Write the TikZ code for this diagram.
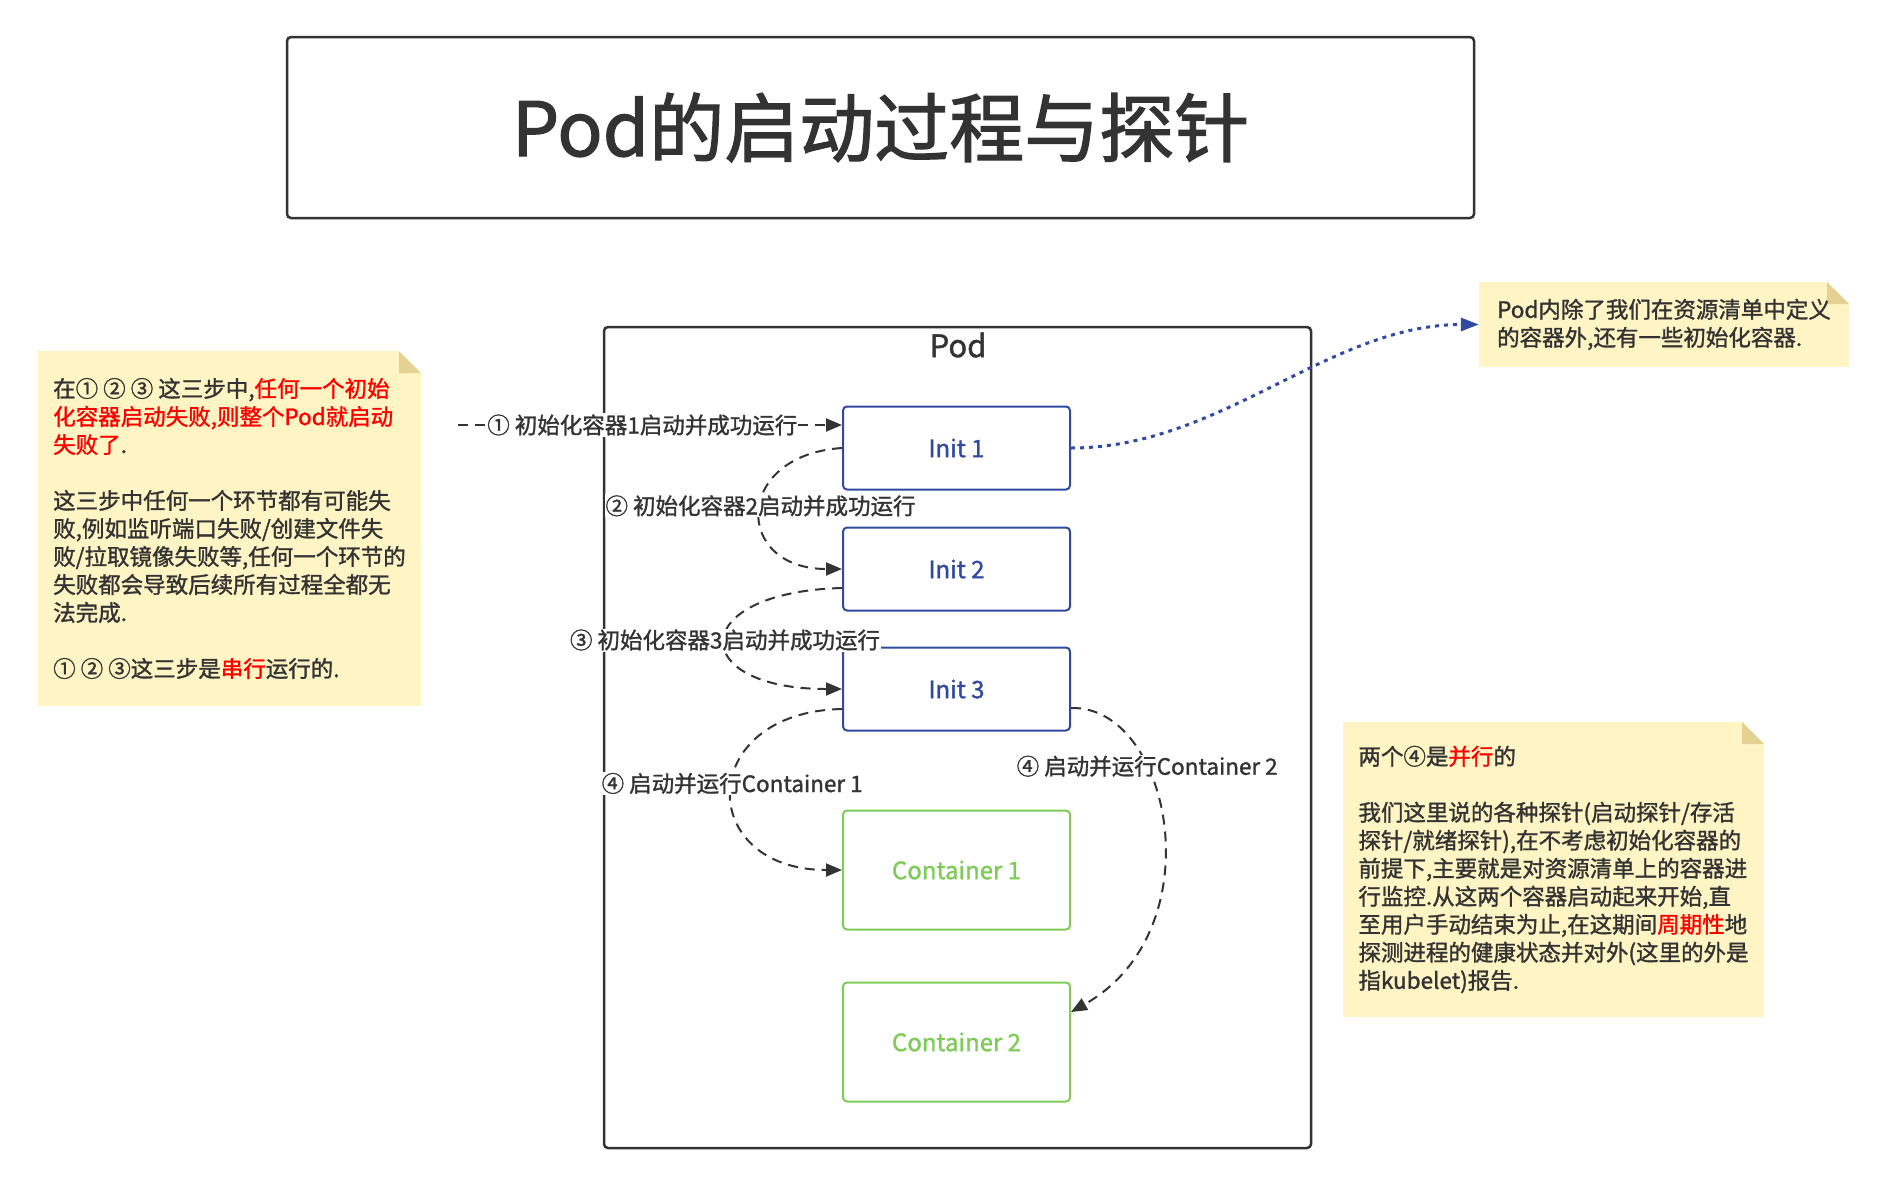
\documentclass[tikz,border=0pt]{standalone}
\usepackage{fontspec}
\setmainfont{Noto Sans CJK SC}[FakeBold=1.3]
\newfontfamily\titlefont{Noto Sans CJK SC}[FakeBold=1.6]
\usepackage{tikz}
\usetikzlibrary{arrows.meta}
\definecolor{mdark}{RGB}{51,51,51}
\definecolor{mblue}{RGB}{48,74,160}
\definecolor{mgreen}{RGB}{126,203,88}
\definecolor{mnote}{RGB}{255,244,195}
\definecolor{mfold}{RGB}{228,210,146}
\definecolor{mred}{RGB}{255,0,0}
\tikzset{
  titlebox/.style = {draw=mdark, line width=2.5, rounded corners=4, minimum width=1187, minimum height=181, text=mdark, font=\titlefont\fontsize{75}{80}\selectfont},
  podbox/.style = {draw=mdark, line width=2.5, rounded corners=4, minimum width=707, minimum height=821},
  initbox/.style = {draw=mblue, line width=2, rounded corners=4, minimum width=227, minimum height=83, text=mblue, font=\fontsize{24}{28}\selectfont},
  ctrbox/.style = {draw=mgreen, line width=2, rounded corners=4, minimum width=227, minimum height=119, text=mgreen, font=\fontsize{24}{28}\selectfont},
  lbl/.style = {fill=white, inner sep=1, text=mdark, font=\fontsize{22.5}{27}\selectfont},
  flow/.style = {draw=mdark, line width=2, dash pattern=on 10pt off 7pt, -{Triangle[length=16pt,width=13pt]}},
  note/.style = {fill=mnote, align=left, text=mdark, font=\fontsize{22.5}{28}\selectfont,
    path picture={
      \fill[white] (path picture bounding box.north east) -- ++(-22pt,0pt) -- ++(22pt,-22pt) -- cycle;
      \fill[mfold] (path picture bounding box.north east) ++(-22pt,0pt) -- ++(0pt,-22pt) -- ++(22pt,0pt) -- cycle;}}
}
\newcommand{\hl}[1]{\textcolor{mred}{#1}}

\begin{document}
\begin{tikzpicture}[x=1pt, y=-1pt]
  \useasboundingbox (0,0) rectangle (1887,1186);

  \node [titlebox] (title) at (880.5,127.5) {Pod的启动过程与探针};

  \node [podbox] (pod) at (957.5,737.5) {};
  \node [text=mdark, font=\fontsize{31}{34}\selectfont] (podlbl) at (958,345) {Pod};

  \node [initbox] (init1) at (956.5,448) {Init 1};
  \node [initbox] (init2) at (956.5,569) {Init 2};
  \node [initbox] (init3) at (956.5,689) {Init 3};
  \node [ctrbox] (ctr1) at (956.5,870) {Container 1};
  \node [ctrbox] (ctr2) at (956.5,1042) {Container 2};

  % notes
  \node [note, minimum width=383, minimum height=355] (lnote) at (229.5,528.5) {%
    在① ② ③ 这三步中,\hl{任何一个初始}\\
    \hl{化容器启动失败,则整个Pod就启动}\\
    \hl{失败了}.\\[28pt]
    这三步中任何一个环节都有可能失\\
    败,例如监听端口失败/创建文件失\\
    败/拉取镜像失败等,任何一个环节的\\
    失败都会导致后续所有过程全都无\\
    法完成.\\[28pt]
    ① ② ③这三步是\hl{串行}运行的.};
  \node [note, minimum width=370, minimum height=85] (rnote) at (1664,324.5) {%
    Pod内除了我们在资源清单中定义\\
    的容器外,还有一些初始化容器.};
  \node [note, minimum width=421, minimum height=295] (bnote) at (1553.5,869.5) {%
    两个④是\hl{并行}的\\[28pt]
    我们这里说的各种探针(启动探针/存活\\
    探针/就绪探针),在不考虑初始化容器的\\
    前提下,主要就是对资源清单上的容器进\\
    行监控.从这两个容器启动起来开始,直\\
    至用户手动结束为止,在这期间\hl{周期性}地\\
    探测进程的健康状态并对外(这里的外是\\
    指kubelet)报告.};

  % steps
  \coordinate (p1) at (458,425);
  \draw [flow] (p1) -- node [lbl, pos=0.48] (s1) {① 初始化容器1启动并成功运行} (p1 -| init1.west);
  \draw [flow] (init1.west) .. controls +(-109,7) and +(-109,0) .. node [lbl, pos=0.47] (s2) {② 初始化容器2启动并成功运行} (init2.west);
  \draw [flow] ([yshift=-19pt]init2.west) .. controls +(-156,4) and +(-156,0) .. node [lbl, pos=0.5] (s3) {③ 初始化容器3启动并成功运行} (init3.west);
  \draw [flow] ([yshift=-20pt]init3.west) .. controls +(-147,3) and +(-147,0) .. node [lbl, pos=0.47] (s4a) {④ 启动并运行Container 1} (ctr1.west);
  \draw [flow] ([yshift=-19pt]init3.east) .. controls +(100,-3) and +(145,-82) .. node [lbl, pos=0.33] (s4b) {④ 启动并运行Container 2} ([yshift=30pt]ctr2.east);

  \draw [mblue, line width=3, dash pattern=on 4pt off 5pt, -{Triangle[length=18pt,width=13pt]}] (init1.east) .. controls +(150,0) and +(-150,0) .. (rnote.west);
\end{tikzpicture}
\end{document}
